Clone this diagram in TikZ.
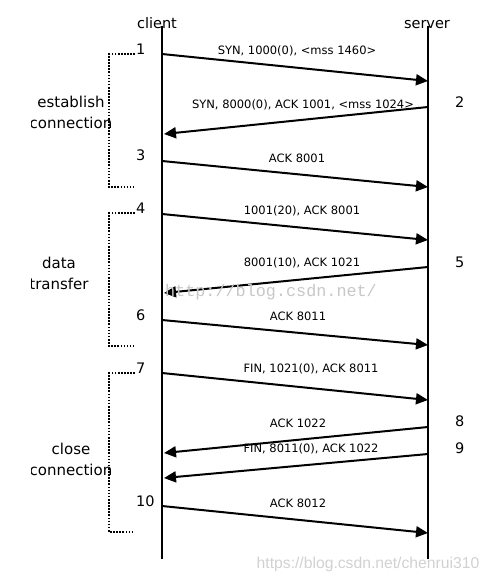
\documentclass[tikz,border=0pt]{standalone}
\usepackage{fontspec}
\setmainfont{DejaVu Sans}
\newfontfamily\wmmono{Liberation Mono}
\newfontfamily\wmsans{Liberation Sans}
\usetikzlibrary{arrows.meta}

\begin{document}
\begin{tikzpicture}[x=1pt,y=-1pt,
  lifeline/.style={line width=2.2pt},
  msg/.style={line width=2pt,-{Triangle[length=12pt,width=11pt]}},
  msglabel/.style={font=\fontsize{11.5}{13}\selectfont, inner sep=0pt},
  bignum/.style={font=\fontsize{14.5}{17}\selectfont, inner sep=0pt, anchor=base west},
  phase/.style={font=\fontsize{15}{21}\selectfont, inner sep=0pt, align=center},
  bracketline/.style={line width=2pt, dash pattern=on 1.6pt off 1.5pt},
  watermark/.style={inner sep=0pt, text=black!22},
]
\useasboundingbox (0,0) rectangle (490,582);

% headers
\node[font=\fontsize{14.5}{17}\selectfont, inner sep=0pt, anchor=base] (client) at (157,28) {client};
\node[font=\fontsize{14.5}{17}\selectfont, inner sep=0pt, anchor=base] (server) at (427,28) {server};

% lifelines
\coordinate (ctop) at (162,26);
\coordinate (cbot) at (162,559);
\coordinate (stop) at (428,26);
\coordinate (sbot) at (428,559);
\draw[lifeline] (ctop) -- (cbot);
\draw[lifeline] (stop) -- (sbot);

% message end points
\coordinate (c1) at (162,54);   \coordinate (s1) at (428,81);
\coordinate (s2) at (428,107);  \coordinate (c2) at (164,134);
\coordinate (c3) at (162,161);  \coordinate (s3) at (428,187);
\coordinate (c4) at (162,214);  \coordinate (s4) at (428,240);
\coordinate (s5) at (428,267);  \coordinate (c5) at (164,293);
\coordinate (c6) at (162,320);  \coordinate (s6) at (428,345);
\coordinate (c7) at (162,373);  \coordinate (s7) at (428,400);
\coordinate (s8) at (428,427);  \coordinate (c8) at (164,453);
\coordinate (s9) at (428,454);  \coordinate (c9) at (164,478);
\coordinate (c10) at (162,506); \coordinate (s10) at (428,533);

\draw[msg] (c1) -- (s1);
\draw[msg] (s2) -- (c2);
\draw[msg] (c3) -- (s3);
\draw[msg] (c4) -- (s4);
\draw[msg] (s5) -- (c5);
\draw[msg] (c6) -- (s6);
\draw[msg] (c7) -- (s7);
\draw[msg] (s8) -- (c8);
\draw[msg] (s9) -- (c9);
\draw[msg] (c10) -- (s10);

% message labels
\node[msglabel] (l1) at (297,51) {SYN, 1000(0), <mss 1460>};
\node[msglabel] (l2) at (303,105) {SYN, 8000(0), ACK 1001, <mss 1024>};
\node[msglabel] (l3) at (297,158) {ACK 8001};
\node[msglabel] (l4) at (302,211) {1001(20), ACK 8001};
\node[msglabel] (l5) at (302,263) {8001(10), ACK 1021};
\node[msglabel] (l6) at (298,316) {ACK 8011};
\node[msglabel] (l7) at (311,369) {FIN, 1021(0), ACK 8011};
\node[msglabel] (l8) at (298,423) {ACK 1022};
\node[msglabel] (l9) at (311,449) {FIN, 8011(0), ACK 1022};
\node[msglabel] (l10) at (298,503) {ACK 8012};

% step numbers
\node[bignum] (n1) at (136,54) {1};
\node[bignum] (n2) at (455,107) {2};
\node[bignum] (n3) at (136,160) {3};
\node[bignum] (n4) at (136,213) {4};
\node[bignum] (n5) at (455,267) {5};
\node[bignum] (n6) at (136,320) {6};
\node[bignum] (n7) at (136,373) {7};
\node[bignum] (n8) at (455,426) {8};
\node[bignum] (n9) at (455,453) {9};
\node[bignum] (n10) at (136,506) {10};

% dotted brackets
\coordinate (b1t) at (135,54);  \coordinate (b1b) at (133,187);
\coordinate (b2t) at (135,213); \coordinate (b2b) at (133,346);
\coordinate (b3t) at (135,373); \coordinate (b3b) at (133,532);
\draw[bracketline] (b1t) -- (109,54) -- (109,187) -- (b1b);
\draw[bracketline] (b2t) -- (109,213) -- (109,346) -- (b2b);
\draw[bracketline] (b3t) -- (109,373) -- (109,532) -- (b3b);

% phase labels
\begin{scope}
\clip (31,0) rectangle (490,582);
\node[phase] (p1) at (71,112) {establish\\connection};
\node[phase] (p2) at (59,273) {data\\transfer};
\node[phase] (p3) at (71,459) {close\\connection};
\end{scope}

% watermarks
\node[watermark, font=\wmmono\fontsize{16.8}{18}\selectfont] (wm1) at (271,292) {http://blog.csdn.net/};
\node[watermark, font=\wmsans\fontsize{15.7}{18}\selectfont, text=black!18] (wm2) at (368,564) {https://blog.csdn.net/chenrui310};
\end{tikzpicture}
\end{document}
